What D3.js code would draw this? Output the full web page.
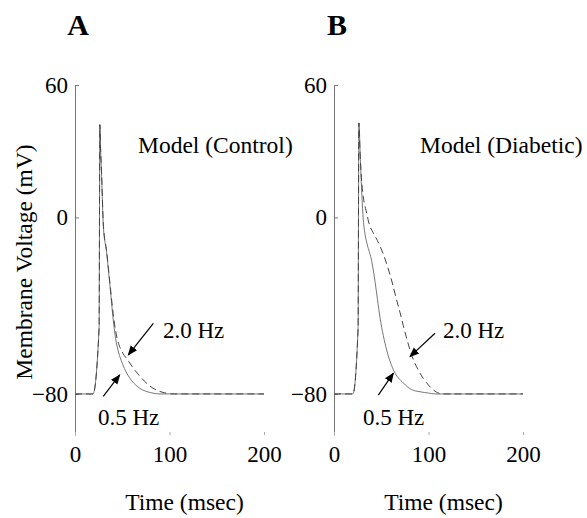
<!DOCTYPE html>
<html>

<head>
	<meta charset="utf-8">
	<title>Model action potentials</title>
	<style>
		body { margin: 0; background: #fff; }
		svg text { font-family: "Liberation Serif", "Times New Roman", serif; fill: #000; }
	</style>
</head>

<body>
	<div id="chart"></div>

	<script src="https://d3js.org/d3.v7.min.js"></script>
	<script>
	// time points (msec) and membrane voltage (mV)
	var ctlSlowT = [0, 19, 25.5, 26.3, 27, 28.2, 30, 33.5, 37, 40.5, 43, 46, 50, 54.7, 60, 68.8, 80, 90, 100, 200];
	var ctlSlowV = [-80, -80, -50, 42, 32, 18.5, -4, -16, -31, -46.5, -55, -61, -66, -70.5, -74, -77.5, -79.4, -80, -80, -80];
	var ctlFastT = [0, 19, 25.5, 26.3, 27, 28.2, 30, 33.5, 37, 40.5, 43, 46, 50, 56.4, 62, 68.8, 78, 86.4, 95, 105, 200];
	var ctlFastV = [-80, -80, -50, 42, 32, 19, -3, -15.5, -30, -44, -51.5, -57, -61, -65, -68.5, -72, -76, -78.3, -79.5, -80, -80];

	var diaSlowT = [0, 20, 25.5, 26.3, 28, 29.5, 31, 33, 35, 40, 43.4, 48.7, 55.7, 62.8, 73.3, 82, 91, 100, 107, 200];
	var diaSlowV = [-80, -80, -50, 42.8, 25, 10, -1, -8, -12, -20, -29, -45.5, -60, -69, -75, -78, -79, -79.6, -80, -80];
	var diaFastT = [0, 20, 25.5, 26.3, 27.5, 29, 31, 34, 38, 41.6, 48.7, 55.7, 59.3, 62.8, 66, 69.8, 73.3, 77, 80.4, 84, 89, 94.5, 100, 107, 115, 200];
	var diaFastV = [-80, -80, -50, 42.8, 30, 18, 9.4, 3, -4, -7, -13, -21, -26, -31.5, -37, -43, -49, -55, -60, -64.5, -69, -73, -76, -78.8, -80, -80];

	var xTicks = [0, 100, 200];
	var yTicks = [-80, 0, 60];

	var panels = [
		{ letter: "A", title: "Model (Control)", slowT: ctlSlowT, slowV: ctlSlowV, fastT: ctlFastT, fastV: ctlFastV,
		  left: 75, titleAt: [66.7, 29.2], fastArrow: [[82.9, -48], [56.4, -62.3]], slowArrow: [[29.9, -81.1], [47.3, -71.4]],
		  fastLabel: [93, -54.6], slowLabel: [24.3, -94] },
		{ letter: "B", title: "Model (Diabetic)", slowT: diaSlowT, slowV: diaSlowV, fastT: diaFastT, fastV: diaFastV,
		  left: 334, titleAt: [91, 29.2], fastArrow: [[106.9, -52.5], [80.4, -63.1]], slowArrow: [[46.9, -80.5], [62.8, -70.6]],
		  fastLabel: [115.3, -54.6], slowLabel: [30.7, -94] }
	];

	var width = 587, height = 518;

	var svg = d3.select("#chart")
		.append("svg")
		  .attr("width", width)
		  .attr("height", height);

	svg.append("defs").append("marker")
		.attr("id", "head")
		.attr("viewBox", "0 0 10 10")
		.attr("refX", 9).attr("refY", 5)
		.attr("markerWidth", 10).attr("markerHeight", 10)
		.attr("markerUnits", "userSpaceOnUse")
		.attr("orient", "auto")
	  .append("path")
		.attr("d", "M0,1 L10,5 L0,9 Z")
		.attr("fill", "#000");

	// y: 60 mV at top, axis line runs a bit below -80
	var y = d3.scaleLinear().domain([-98.6, 60]).range([435, 85]);

	panels.forEach(function(p) {
		var x = d3.scaleLinear().domain([0, 200]).range([p.left, p.left + 189]);
		var g = svg.append("g");

		// y axis, ticks pointing inward
		var ya = g.append("g")
			.attr("transform", "translate(" + p.left + ",0)")
			.call(d3.axisLeft(y).tickValues(yTicks).tickSizeInner(-4).tickSizeOuter(0).tickPadding(7)
				.tickFormat(function(d) { return d < 0 ? "\u2212" + Math.abs(d) : d; }));
		ya.select(".domain").attr("stroke", "#777");
		ya.selectAll(".tick line").attr("stroke", "#777");
		ya.selectAll("text").style("font-size", "23px").attr("fill", "#000");

		// x axis without its line
		var xa = g.append("g")
			.attr("transform", "translate(0,435)")
			.call(d3.axisBottom(x).tickValues(xTicks).tickSizeInner(-3).tickSizeOuter(0).tickPadding(11));
		xa.select(".domain").remove();
		xa.selectAll(".tick line").attr("stroke", "#aaa");
		xa.selectAll("text").style("font-size", "23px").attr("fill", "#000");

		var line = d3.line()
			.curve(d3.curveMonotoneX)
			.x(function(d) { return x(d[0]); })
			.y(function(d) { return y(d[1]); });

		g.append("path")
			.datum(d3.zip(p.slowT, p.slowV))
			.attr("d", line)
			.attr("fill", "none")
			.attr("stroke", "#666")
			.attr("stroke-width", 0.9);

		g.append("path")
			.datum(d3.zip(p.fastT, p.fastV))
			.attr("d", line)
			.attr("fill", "none")
			.attr("stroke", "#444")
			.attr("stroke-width", 1)
			.attr("stroke-dasharray", "7,4");

		[p.fastArrow, p.slowArrow].forEach(function(a) {
			g.append("line")
				.attr("x1", x(a[0][0])).attr("y1", y(a[0][1]))
				.attr("x2", x(a[1][0])).attr("y2", y(a[1][1]))
				.attr("stroke", "#000")
				.attr("stroke-width", 1.2)
				.attr("marker-end", "url(#head)");
		});

		g.append("text")
			.attr("x", x(p.fastLabel[0])).attr("y", y(p.fastLabel[1]))
			.style("font-size", "23px")
			.text("2.0 Hz");
		g.append("text")
			.attr("x", x(p.slowLabel[0])).attr("y", y(p.slowLabel[1]))
			.style("font-size", "23px")
			.text("0.5 Hz");

		g.append("text")
			.attr("x", x(p.titleAt[0])).attr("y", y(p.titleAt[1]))
			.style("font-size", "23.5px")
			.text(p.title);

		g.append("text")
			.attr("x", x(100) + 15).attr("y", 510)
			.attr("text-anchor", "middle")
			.style("font-size", "23.5px")
			.text("Time (msec)");

		g.append("text")
			.attr("x", p.left + 3).attr("y", 35)
			.attr("text-anchor", "middle")
			.style("font-size", "30px")
			.style("font-weight", "bold")
			.text(p.letter);
	});

	svg.append("text")
		.attr("transform", "translate(32,262) rotate(-90)")
		.attr("text-anchor", "middle")
		.style("font-size", "23.5px")
		.text("Membrane Voltage (mV)");
	</script>
</body>

</html>
